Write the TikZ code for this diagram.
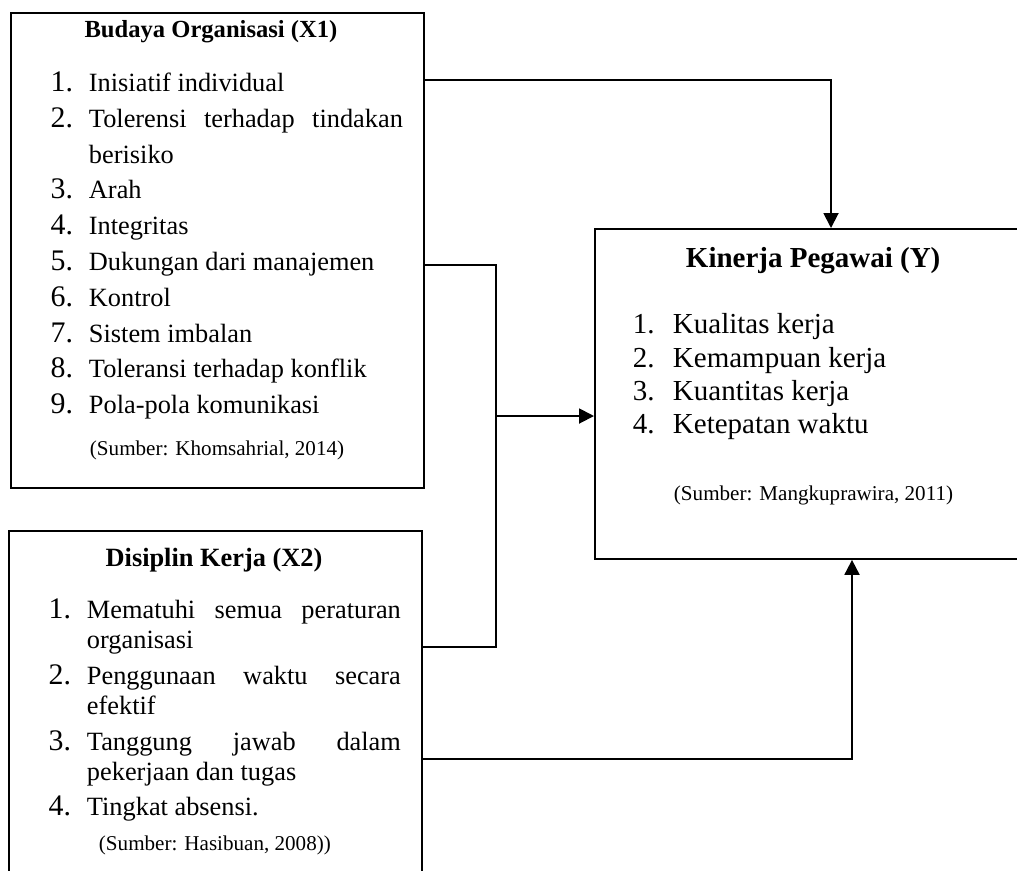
\documentclass[tikz,border=0pt]{standalone}
\usepackage{fontspec}
\setmainfont{Liberation Serif}
\usepackage{tikz}
\usetikzlibrary{arrows.meta}
\newcommand{\numfont}{\fontsize{17}{20}\selectfont}
\newcommand{\itemfont}{\fontsize{15}{18}\selectfont}
\newcommand{\srcfont}{\fontsize{12}{14}\selectfont}
\newcommand{\yfont}{\fontsize{16.5}{20}\selectfont}
\newcommand{\jline}[1]{\makebox[6.28cm][s]{#1}}

\begin{document}
\begin{tikzpicture}[x = 0.02cm, y = -0.02cm, line width = 1.1pt,
  box/.style={draw, rectangle, anchor = north west, inner sep = 0pt},
  txt/.style={anchor = base west, inner sep = 0pt, font = \itemfont},
  num/.style={anchor = base east, inner sep = 0pt, font = \numfont},
  ynum/.style={anchor = base west, inner sep = 0pt, font = \yfont},
  src/.style={anchor = base west, inner sep = 0pt, font = \srcfont},
  link/.style={line width = 1.1pt},
  arr/.style={line width = 1.1pt, -{Triangle[length = 0.3cm, width = 0.3cm]}}]
  \clip (0,0) rectangle (1017,870);
  % boxes
  \node [box, minimum width = 8.26cm, minimum height = 9.5cm] (x1) at (10,12) {};
  \node [box, minimum width = 8.26cm, minimum height = 8cm] (x2) at (8,530) {};
  \node [box, minimum width = 10cm, minimum height = 6.6cm] (y) at (594,228) {};

  % titles
  \node [anchor = base, inner sep = 0pt, font = \fontsize{14}{17}\selectfont\bfseries] (x1ttl) at (211,37) {Budaya Organisasi (X1)};
  \node [anchor = base, inner sep = 0pt, font = \fontsize{15}{18}\selectfont\bfseries] (x2ttl) at (214,566) {Disiplin Kerja (X2)};
  \node [anchor = base west, inner sep = 0pt, font = \fontsize{16.5}{20}\selectfont\bfseries] (yttl) at (685,267) {Kinerja Pegawai (Y)};

  % budaya organisasi
  \foreach \i/\yy/\t in {1/91/Inisiatif individual, 3/198/Arah, 4/234/Integritas, 5/270/Dukungan dari manajemen, 6/306/Kontrol, 7/342/Sistem imbalan, 8/377/Toleransi terhadap konflik, 9/413/Pola-pola komunikasi}{
    \node [num] (x1n\i) at (74,\yy) {\i.};
    \node [txt] (x1t\i) at (88,\yy) {\t};
  }
  \node [num] (x1n2) at (74,127) {2.};
  \node [txt] (x1t2) at (88,127) {\jline{Tolerensi terhadap tindakan}};
  \node [txt] (x1t2b) at (88,163) {berisiko};
  \node [src] (x1src) at (89,455) {(Sumber: Khomsahrial, 2014)};

  % disiplin kerja
  \node [num] (x2n1) at (72,618) {1.};
  \node [txt] (x2t1) at (86,618) {\jline{Mematuhi semua peraturan}};
  \node [txt] (x2t1b) at (86,648) {organisasi};
  \node [num] (x2n2) at (72,684) {2.};
  \node [txt] (x2t2) at (86,684) {\jline{Penggunaan waktu secara}};
  \node [txt] (x2t2b) at (86,714) {efektif};
  \node [num] (x2n3) at (72,750) {3.};
  \node [txt] (x2t3) at (86,750) {\jline{Tanggung jawab dalam}};
  \node [txt] (x2t3b) at (86,780) {pekerjaan dan tugas};
  \node [num] (x2n4) at (72,815) {4.};
  \node [txt] (x2t4) at (86,815) {Tingkat absensi.};
  \node [src] (x2src) at (98,850) {(Sumber: Hasibuan, 2008))};

  % kinerja pegawai
  \foreach \i/\yy/\t in {1/333/Kualitas kerja, 2/367/Kemampuan kerja, 3/400/Kuantitas kerja, 4/433/Ketepatan waktu}{
    \node [ynum] (yn\i) at (632,\yy) {\i.};
    \node [ynum] (yt\i) at (672,\yy) {\t};
  }
  \node [src] (ysrc) at (673,500) {(Sumber: Mangkuprawira, 2011)};

  % edges
  \coordinate (c1) at (831,80);
  \draw [arr] (x1.east |- c1) -- (c1) -- (c1 |- y.north);
  \coordinate (jtop) at (496,265);
  \coordinate (jmid) at (496,416);
  \coordinate (jbot) at (496,647);
  \draw [link] (x1.east |- jtop) -- (jtop) -- (jbot) -- (x2.east |- jbot);
  \draw [arr] (jmid) -- (jmid -| y.west);
  \coordinate (c2) at (852,759);
  \draw [arr] (x2.east |- c2) -- (c2) -- (c2 |- y.south);
\end{tikzpicture}
\end{document}
